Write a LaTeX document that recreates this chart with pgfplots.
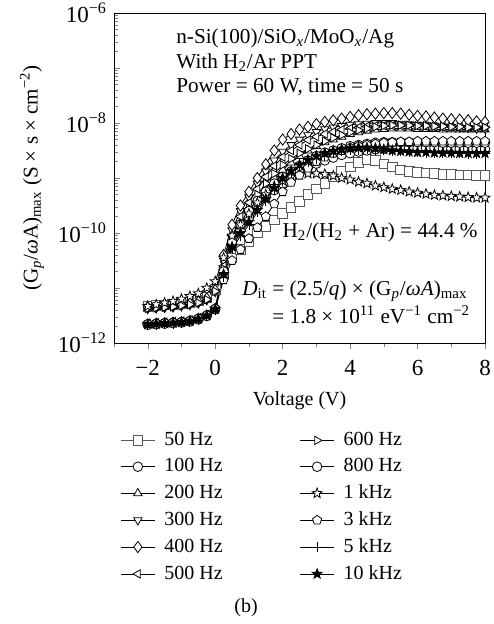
\documentclass[border=0pt]{standalone}
\usepackage{fontspec}
\setmainfont{Liberation Serif}
\usepackage{pgfplots}
\usepackage{pgfplotstable}
\pgfplotsset{compat=1.18}
\usetikzlibrary{plotmarks}
\pgfdeclareplotmark{fivestar}{%
  \pgfpathmoveto{\pgfpointpolar{90}{\pgfplotmarksize}}%
  \pgfpathlineto{\pgfpointpolar{126}{0.42\pgfplotmarksize}}%
  \pgfpathlineto{\pgfpointpolar{162}{\pgfplotmarksize}}%
  \pgfpathlineto{\pgfpointpolar{198}{0.42\pgfplotmarksize}}%
  \pgfpathlineto{\pgfpointpolar{234}{\pgfplotmarksize}}%
  \pgfpathlineto{\pgfpointpolar{270}{0.42\pgfplotmarksize}}%
  \pgfpathlineto{\pgfpointpolar{306}{\pgfplotmarksize}}%
  \pgfpathlineto{\pgfpointpolar{342}{0.42\pgfplotmarksize}}%
  \pgfpathlineto{\pgfpointpolar{18}{\pgfplotmarksize}}%
  \pgfpathlineto{\pgfpointpolar{54}{0.42\pgfplotmarksize}}%
  \pgfpathclose\pgfusepathqfillstroke}
\tikzset{ann/.style={inner sep=0pt, font=\fontsize{10.6}{12.7}\selectfont}}
% log10 of (Gp/wA)max
\pgfplotstableread{
v     a50    a100   a200   a300   a400   a500   a600   a800   a1k    a3k    a5k    a10k
-2    -11.33 -11.66 -11.36 -11.38 -11.35 -11.64 -11.37 -11.67 -11.33 -11.65 -11.68 -11.66
-1.75 -11.32 -11.65 -11.35 -11.37 -11.34 -11.63 -11.36 -11.66 -11.30 -11.64 -11.67 -11.65
-1.5  -11.31 -11.64 -11.34 -11.36 -11.33 -11.62 -11.35 -11.65 -11.27 -11.63 -11.66 -11.64
-1.25 -11.30 -11.63 -11.33 -11.35 -11.32 -11.61 -11.34 -11.64 -11.24 -11.62 -11.65 -11.63
-1    -11.28 -11.62 -11.31 -11.33 -11.30 -11.60 -11.32 -11.63 -11.20 -11.61 -11.64 -11.62
-0.75 -11.26 -11.60 -11.29 -11.31 -11.28 -11.58 -11.30 -11.61 -11.15 -11.59 -11.62 -11.60
-0.5  -11.23 -11.56 -11.26 -11.28 -11.25 -11.54 -11.27 -11.57 -11.10 -11.55 -11.58 -11.56
-0.25 -11.17 -11.50 -11.20 -11.22 -11.19 -11.48 -11.21 -11.51 -11.00 -11.49 -11.52 -11.50
0     -11.02 -11.38 -11.05 -11.07 -11.04 -11.36 -11.06 -11.39 -10.88 -11.37 -11.40 -11.38
0.25  -10.75 -10.80 -10.60 -10.50 -10.40 -10.60 -10.65 -10.70 -10.45 -10.85 -10.80 -10.75
0.5   -10.45 -10.20 -10.10 -9.95  -9.85  -10.05 -10.20 -10.15 -10.05 -10.50 -10.30 -10.25
0.75  -10.30 -9.95  -9.85  -9.60  -9.50  -9.70  -9.85  -9.85  -9.85  -10.30 -10.05 -10.00
1     -10.15 -9.72  -9.60  -9.35  -9.25  -9.45  -9.55  -9.60  -9.65  -10.10 -9.85  -9.80
1.25  -10.00 -9.52  -9.38  -9.10  -9.00  -9.20  -9.30  -9.42  -9.45  -9.90  -9.62  -9.58
1.5   -9.88  -9.35  -9.20  -8.88  -8.75  -8.98  -9.10  -9.25  -9.30  -9.70  -9.42  -9.38
1.75  -9.76  -9.22  -9.00  -8.68  -8.50  -8.78  -8.92  -9.10  -9.15  -9.47  -9.22  -9.18
2     -9.64  -9.10  -8.85  -8.52  -8.30  -8.62  -8.76  -8.98  -9.05  -9.25  -9.05  -9.00
2.25  -9.53  -9.00  -8.72  -8.40  -8.20  -8.50  -8.65  -8.88  -8.98  -9.08  -8.92  -8.87
2.5   -9.42  -8.90  -8.60  -8.30  -8.12  -8.40  -8.55  -8.78  -8.94  -8.95  -8.80  -8.76
2.75  -9.30  -8.81  -8.50  -8.22  -8.07  -8.31  -8.47  -8.68  -8.92  -8.82  -8.72  -8.67
3     -9.20  -8.74  -8.42  -8.16  -8.02  -8.25  -8.40  -8.60  -8.92  -8.70  -8.65  -8.60
3.25  -9.10  -8.68  -8.35  -8.11  -7.98  -8.20  -8.33  -8.54  -8.93  -8.62  -8.60  -8.55
3.5   -8.98  -8.63  -8.30  -8.08  -7.95  -8.16  -8.27  -8.50  -8.96  -8.55  -8.55  -8.51
3.75  -8.88  -8.58  -8.25  -8.05  -7.92  -8.12  -8.22  -8.46  -9.00  -8.50  -8.52  -8.48
4     -8.80  -8.55  -8.20  -8.03  -7.89  -8.10  -8.17  -8.42  -9.03  -8.45  -8.50  -8.46
4.25  -8.72  -8.52  -8.17  -8.02  -7.86  -8.08  -8.13  -8.40  -9.07  -8.42  -8.49  -8.45
4.5   -8.66  -8.50  -8.14  -8.01  -7.84  -8.06  -8.10  -8.38  -9.10  -8.40  -8.48  -8.45
4.75  -8.68  -8.48  -8.12  -8.00  -7.83  -8.05  -8.07  -8.36  -9.14  -8.38  -8.49  -8.46
5     -8.74  -8.47  -8.11  -8.00  -7.82  -8.05  -8.05  -8.35  -9.17  -8.36  -8.50  -8.48
5.25  -8.80  -8.46  -8.10  -8.00  -7.82  -8.05  -8.04  -8.35  -9.20  -8.35  -8.51  -8.50
5.5   -8.85  -8.46  -8.10  -8.01  -7.83  -8.05  -8.04  -8.35  -9.22  -8.34  -8.52  -8.51
5.75  -8.88  -8.46  -8.10  -8.02  -7.85  -8.06  -8.04  -8.35  -9.25  -8.34  -8.53  -8.52
6     -8.90  -8.46  -8.11  -8.03  -7.87  -8.06  -8.05  -8.35  -9.27  -8.33  -8.53  -8.53
6.25  -8.91  -8.46  -8.11  -8.04  -7.88  -8.06  -8.05  -8.35  -9.29  -8.33  -8.54  -8.53
6.5   -8.92  -8.46  -8.11  -8.05  -7.90  -8.07  -8.06  -8.35  -9.31  -8.33  -8.54  -8.54
6.75  -8.93  -8.46  -8.12  -8.06  -7.92  -8.07  -8.06  -8.36  -9.32  -8.33  -8.55  -8.54
7     -8.93  -8.47  -8.12  -8.07  -7.93  -8.07  -8.07  -8.36  -9.33  -8.33  -8.55  -8.54
7.25  -8.94  -8.47  -8.12  -8.08  -7.94  -8.08  -8.07  -8.36  -9.34  -8.33  -8.55  -8.55
7.5   -8.94  -8.47  -8.12  -8.09  -7.95  -8.08  -8.08  -8.36  -9.35  -8.33  -8.56  -8.55
7.75  -8.95  -8.47  -8.12  -8.10  -7.97  -8.08  -8.08  -8.36  -9.36  -8.33  -8.56  -8.55
8     -8.95  -8.47  -8.12  -8.10  -7.98  -8.08  -8.08  -8.36  -9.36  -8.33  -8.56  -8.55
}\data
\begin{document}
\begin{tikzpicture}
\begin{axis}[
  at={(0,0)}, anchor=south west,
  scale only axis, width=185.5pt, height=165pt,
  ymode=log, xmin=-3, xmax=8, ymin=1e-12, ymax=1e-6,
  xtick={-2,0,2,4,6,8}, xticklabels={−2,0,2,4,6,8},
  minor xtick={-3,-1,1,3,5,7},
  ytick={1e-12,1e-11,1e-10,1e-9,1e-8,1e-7,1e-6},
  yticklabels={10\textsuperscript{−12},{},10\textsuperscript{−10},{},10\textsuperscript{−8},{},10\textsuperscript{−6}},
  minor ytick={2e-12,3e-12,4e-12,5e-12,6e-12,7e-12,8e-12,9e-12,
    2e-11,3e-11,4e-11,5e-11,6e-11,7e-11,8e-11,9e-11,
    2e-10,3e-10,4e-10,5e-10,6e-10,7e-10,8e-10,9e-10,
    2e-9,3e-9,4e-9,5e-9,6e-9,7e-9,8e-9,9e-9,
    2e-8,3e-8,4e-8,5e-8,6e-8,7e-8,8e-8,9e-8,
    2e-7,3e-7,4e-7,5e-7,6e-7,7e-7,8e-7,9e-7},
  xtick pos=bottom, ytick pos=left,
  xtick align=outside, ytick align=inside,
  major tick length=3pt, minor tick length=2pt,
  tick label style={font=\fontsize{11.5}{13}\selectfont},
  xticklabel style={yshift=-2pt},
  xlabel={Voltage (V)},
  xlabel style={yshift=-1pt},
  ylabel={(G\textsubscript{\textit{p}}/\textit{ω}A)\textsubscript{max} (S × s × cm\textsuperscript{−2})},
  ylabel style={font=\fontsize{10.5}{12}\selectfont},
  every axis plot/.append style={black, line width=0.4pt, mark size=2.4pt, mark options={solid, fill=white, line width=0.4pt}},
  legend columns=6, transpose legend,
  legend style={at={(axis description cs:0,-0.245)}, anchor=north west, draw=none, fill=none,
    row sep=1pt, /tikz/every even column/.append style={column sep=36.5pt},
    /tikz/every odd column/.append style={column sep=2.5pt}},
  legend cell align=left,
]
\addplot[black!65, mark=square*, mark options={fill=white, draw=black!65}] table[x=v, y expr=10^\thisrow{a50}] {\data};
\addlegendentry{50 Hz}
\addplot[mark=*] table[x=v, y expr=10^\thisrow{a100}] {\data};
\addlegendentry{100 Hz}
\addplot[mark=triangle*] table[x=v, y expr=10^\thisrow{a200}] {\data};
\addlegendentry{200 Hz}
\addplot[mark=triangle*, mark options={rotate=180, fill=white}] table[x=v, y expr=10^\thisrow{a300}] {\data};
\addlegendentry{300 Hz}
\addplot[mark=diamond*, mark size=2.8pt] table[x=v, y expr=10^\thisrow{a400}] {\data};
\addlegendentry{400 Hz}
\addplot[mark=triangle*, mark options={rotate=90, fill=white}] table[x=v, y expr=10^\thisrow{a500}] {\data};
\addlegendentry{500 Hz}
\addplot[mark=triangle*, mark options={rotate=-90, fill=white}] table[x=v, y expr=10^\thisrow{a600}] {\data};
\addlegendentry{600 Hz}
\addplot[mark=*] table[x=v, y expr=10^\thisrow{a800}] {\data};
\addlegendentry{800 Hz}
\addplot[mark=fivestar, mark size=2.6pt] table[x=v, y expr=10^\thisrow{a1k}] {\data};
\addlegendentry{1 kHz}
\addplot[mark=pentagon*] table[x=v, y expr=10^\thisrow{a3k}] {\data};
\addlegendentry{3 kHz}
\addplot[mark=+] table[x=v, y expr=10^\thisrow{a5k}] {\data};
\addlegendentry{5 kHz}
\addplot[mark=fivestar, mark size=2.6pt, mark options={fill=black}] table[x=v, y expr=10^\thisrow{a10k}] {\data};
\addlegendentry{10 kHz}
\node[ann, anchor=base west] at (axis description cs:0.167,0.909) {n-Si(100)/SiO\textsubscript{\textit{x}}/MoO\textsubscript{\textit{x}}/Ag};
\node[ann, anchor=base west] at (axis description cs:0.167,0.833) {With H\textsubscript{2}/Ar PPT};
\node[ann, anchor=base west] at (axis description cs:0.167,0.758) {Power = 60 W, time = 50 s};
\node[ann, anchor=base east] at (axis description cs:0.981,0.321) {H\textsubscript{2}/(H\textsubscript{2} + Ar) = 44.4 \%};
\node[ann, anchor=base west] at (axis description cs:0.345,0.145) {\textit{D}\textsubscript{it} = (2.5/\textit{q}) × (G\textsubscript{\textit{p}}/\textit{ω}\textit{A})\textsubscript{max}};
\node[ann, anchor=base west] at (axis description cs:0.426,0.058) {= 1.8 × 10\textsuperscript{11} eV\textsuperscript{−1} cm\textsuperscript{−2}};
\end{axis}
\node at (66pt,-132.5pt) {(b)};
\pgfresetboundingbox
\path (-57pt,171.5pt) rectangle (189.5pt,-140.5pt);
\end{tikzpicture}
\end{document}
